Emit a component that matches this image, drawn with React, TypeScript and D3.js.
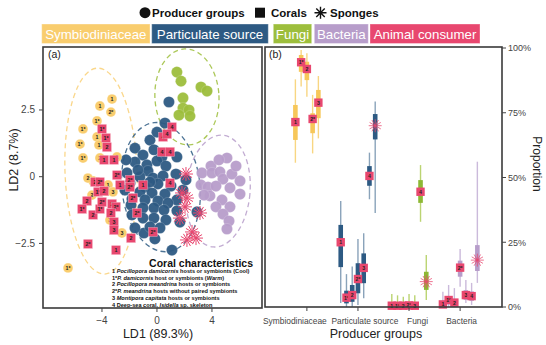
import React from "react";
import * as d3 from "d3";

const FONT = "'Liberation Sans', Arial, Helvetica, sans-serif";

// ---------- header / groups ----------
const headerLabels = ["Symbiodiniaceae", "Particulate source", "Fungi", "Bacteria", "Animal consumer"];
const headerColors = ["#F9CD6E", "#2D5A83", "#9DBE3C", "#B79DCA", "#E8476F"];
const producerGroups = ["Symbiodiniaceae", "Particulate source", "Fungi", "Bacteria"];

// ---------- panel (a): LDA scores ----------
const symbLD1 = [-3.27, -4.15, -3.35, -4.36, -5.38, -4.36, -5.6, -4.22, -5.38, -4.15, -2.91, -4.65, -3.56, -4.73, -3.64, -3.2, -2.55, -6.47, -3.42, -5.02];
const symbLD2 = [2.91, 2.65, 2.42, 2.09, 1.79, 1.49, 1.22, 1.19, 0.7, 0.7, 0.74, -0.16, -0.31, -0.69, -0.54, -0.57, -2.11, -3.42, -1.62, -0.05];
const symbLab = ["1", "1", "2*", "1*", "1*", "1", "1*", "1", "1*", "2", "1", "1", "1", "2", "3", "3", "3", "1*", "3", "2"];

const partLD1 = [0.87, 0.58, -0.51, -1.6, -1.02, -0.22, 1.45, 0.36, -1.6, -0.73, 0.0, 0.65, -0.65, -1.24, -0.29, 0.44, 1.38, -1.96, -0.87, 0.07, 1.02, 1.89, -1.24, -0.36, 0.58, 1.45, -1.82, -0.87, 0.07, 0.8, -1.89, -1.02, -0.22, 0.51, 1.45, 2.91, -1.82, -1.02, -0.22, 0.65, -0.95, -0.51, 0.22, -1.6, -0.15, 1.09, -0.51, -1.38, -2.18, 2.11, 1.67, -2.33, 0.0, -2.25];
const partLD2 = [2.8, 2.01, 1.37, 1.07, 0.81, 1.01, 0.74, 0.74, 0.55, 0.44, 0.59, 0.4, 0.21, -0.01, -0.05, 0.03, 0.1, -0.24, -0.39, -0.27, -0.35, -0.5, -0.57, -0.61, -0.65, -0.87, -0.84, -0.87, -0.91, -0.99, -1.06, -1.17, -1.17, -1.25, -1.28, -1.32, -1.43, -1.55, -1.55, -1.62, -2.11, -1.88, -1.92, -1.92, -2.33, -2.75, -0.2, 0.25, 0.14, -0.12, -1.7, -0.5, 1.67, 0.63];

const fungLD1 = [1.45, 1.75, 3.2, 3.64, 1.89, 1.89, 2.33, 1.6, 2.4];
const fungLD2 = [3.92, 3.58, 3.36, 3.21, 2.95, 2.57, 2.5, 2.31, 2.27];

const bactLD1 = [5.09, 3.93, 3.27, 4.0, 4.58, 4.8, 5.45, 6.04, 3.2, 3.71, 4.29, 5.31, 6.04, 4.73, 4.29, 5.31, 4.8, 5.24, 5.09, 3.85, 5.75, 4.51, 3.42];
const bactLD2 = [0.7, 0.4, 0.14, 0.14, 0.18, -0.09, 0.1, -0.16, -0.31, -0.39, -0.35, -0.42, -0.65, -0.87, -1.13, -1.13, -1.4, -1.66, -1.96, -0.72, 0.4, 0.63, -0.69];

const coralLD1 = [-4.0, -3.71, -3.64, -3.85, -3.13, -2.91, -2.69, -1.96, -1.96, -1.02, -1.75, -1.45, -0.29, -1.89, -2.98, -5.02, -4.51, -4.15, -4.29, -3.85, -5.09, -5.45, -4.65, -4.15, -4.0, -3.27, -2.98, -3.35, -3.13, -3.13, 1.09, 0.44, 0.73, 0.36, 0.95, 0.95];
const coralLD2 = [1.79, 1.45, 1.11, 0.63, 0.63, 0.06, -0.31, -0.12, -0.39, -0.31, -0.8, -1.36, -2.07, -2.3, -2.75, -2.52, -0.2, -0.2, -0.57, -0.54, -0.91, -1.21, -1.43, -1.21, -0.95, -1.02, -1.13, -1.36, -1.7, -2.0, 1.86, 1.49, 1.6, 0.93, 0.93, -0.24];
const coralLab = ["1*", "1*", "2", "1", "1", "2*", "1", "2*", "2*", "1", "2*", "2*", "2*", "2", "1", "2*", "2", "2*", "1*", "2", "2", "1*", "2", "1*", "2*", "2", "2*", "2", "3", "3", "4", "4", "4", "4", "4", "4"];

const spongeLD1 = [2.11, 1.82, 2.18, 2.04, 1.67, 3.13, 2.55, 2.84, 2.18];
const spongeLD2 = [0.1, -0.61, -0.8, -1.13, -1.55, -1.36, -2.07, -2.3, -2.37];

// 95% ellipses (data units)
const ellGroup = ["Symbiodiniaceae", "Particulate source", "Fungi", "Bacteria"];
const ellCx = [-4.07, 0.29, 2.18, 4.44];
const ellCy = [0.21, -0.39, 2.99, -0.54];
const ellRx = [2.62, 2.84, 2.33, 2.33];
const ellRy = [3.86, 2.43, 1.8, 2.1];
const ellAngle = [-2, -6, -3, 5];

const legendLines: [string, boolean][][] = [
  [["1 ", false], ["Pocillopora damicornis", true], [" hosts or symbionts (Cool)", false]],
  [["1*", false], ["P. damicornis", true], [" host or symbionts (", false], ["Warm", true], [")", false]],
  [["2 ", false], ["Pocillopora meandrina", true], [" hosts or symbionts", false]],
  [["2*", false], ["P. meandrina", true], [" hosts without paired symbionts", false]],
  [["3 ", false], ["Montipora capitata", true], [" hosts or symbionts", false]],
  [["4 ", false], ["Deep-sea coral, ", false], ["Isidella", true], [" sp. skeleton", false]],
];

// ---------- panel (b): diet proportions (%) ----------
const consumerKeys = ["1", "1*", "2", "2*", "3", "4", "Sponge"];
// per producer group: median, q1, q3, lower, upper  (null = absent)
const symbMed = [71.4, 94.5, 91.9, 72.6, 78.9, null, null];
const symbQ1 = [64.5, 90.8, 87.6, 67.1, 72.9, null, null];
const symbQ3 = [78.0, 97.3, 94.7, 74.8, 83.8, null, null];
const symbLo = [55.7, 85.1, 81.2, 59.3, 65.1, null, null];
const symbHi = [87.9, 99.2, 98.0, 81.9, 89.2, null, null];

const partMed = [25.0, 3.6, 4.6, 10.8, 15.1, 50.6, 70.0];
const partQ1 = [15.4, 1.4, 2.0, 5.3, 9.2, 46.8, 64.7];
const partQ3 = [31.7, 6.3, 8.5, 16.9, 20.7, 54.4, 74.5];
const partLo = [1.5, 0, 0.1, 0.8, 3.4, 41.6, 36.3];
const partHi = [40.9, 12.7, 15.6, 26.3, 28.5, 59.6, 79.3];

const fungMed = [0.5, 0.5, 0.5, 0.6, 0.5, 44.5, 9.8];
const fungQ1 = [0.1, 0.1, 0.1, 0.1, 0.1, 40.2, 6.6];
const fungQ3 = [1.2, 1.2, 1.0, 1.5, 1.2, 49.0, 13.6];
const fungLo = [0, 0, 0, 0, 0, 32.9, 2.7];
const fungHi = [5.0, 4.5, 4.0, 5.0, 4.5, 54.8, 20.1];

const bactMed = [1.0, 2.7, 1.7, 15.2, 4.6, 4.2, 18.1];
const bactQ1 = [0.3, 1.0, 0.6, 11.7, 2.8, 2.4, 13.9];
const bactQ3 = [2.0, 4.0, 3.0, 17.9, 6.5, 6.0, 23.9];
const bactLo = [0, 0, 0, 7.8, 1.5, 0.8, 9.3];
const bactHi = [5.9, 8.5, 7.3, 22.4, 10.4, 9.3, 56.1];

const propTicks = [0, 25, 50, 75, 100];

const boxColors = ["#F7C75A", "#2D5A83", "#8DB834", "#B79DCA"];
const whiskerColors = ["#F8D682", "#8AA3BA", "#BBD472", "#CBBADB"];

function starPath(r: number, n: number) {
  let p = "";
  for (let i = 0; i < n; i++) {
    const a = (Math.PI * i) / n;
    const dx = r * Math.cos(a), dy = r * Math.sin(a);
    p += `M${(-dx).toFixed(2)},${(-dy).toFixed(2)}L${dx.toFixed(2)},${dy.toFixed(2)}`;
  }
  return p;
}

export default function App() {
  const pink = headerColors[4];
  const color = d3.scaleOrdinal<string, string>().domain(headerLabels).range(headerColors);

  // panel a scales
  const xA = d3.scaleLinear().domain([-8.29, 7.64]).range([43, 262]);
  const yA = d3.scaleLinear().domain([-4.92, 4.86]).range([308, 47]);
  const fmt = d3.format("");

  // panel b scales
  const xB = d3.scalePoint<string>().domain(producerGroups).range([265, 502]).padding(0.82);
  const yB = d3.scaleLinear().domain([0, 100]).range([307, 48]);
  const dodge = xB.step() * 0.1125;

  const stats = [
    [symbMed, symbQ1, symbQ3, symbLo, symbHi],
    [partMed, partQ1, partQ3, partLo, partHi],
    [fungMed, fungQ1, fungQ3, fungLo, fungHi],
    [bactMed, bactQ1, bactQ3, bactLo, bactHi],
  ];
  const boxRows = producerGroups.flatMap((g, gi) => {
    const [med, q1, q3, lo, hi] = stats[gi];
    const present = consumerKeys
      .map((k, ki) => ({ k, med: med[ki], q1: q1[ki], q3: q3[ki], lo: lo[ki], hi: hi[ki] }))
      .filter((r) => r.med !== null);
    const n = present.length;
    return present.map((r, i) => ({ ...r, gi, g, x: (xB(g) as number) + (i - (n - 1) / 2) * dodge }));
  });

  const producers = [
    { g: "Particulate source", xs: partLD1, ys: partLD2 },
    { g: "Bacteria", xs: bactLD1, ys: bactLD2 },
    { g: "Fungi", xs: fungLD1, ys: fungLD2 },
  ];

  const tickCol = "#444";
  const frameCol = "#3a3a3a";

  const headerX = [41.7, 151.7, 273.3, 314.3, 370];
  const headerW = [108.3, 116.6, 38.4, 54, 110];

  const xTickDx = [-12, 7, 8.5, 1.5];

  return (
    <svg width={546} height={345} style={{ position: "absolute", left: 0, top: 0, background: "#fff" }} fontFamily={FONT}>
      {/* ---- shape legend ---- */}
      <g fontWeight="bold" fontSize={11.5} fill="#111">
        <circle cx={145} cy={12.7} r={5.5} fill="#111" />
        <text x={152} y={17}>Producer groups</text>
        <rect x={255} y={7.7} width={10} height={10} fill="#111" />
        <text x={271} y={17}>Corals</text>
        <path d={starPath(6, 4)} transform="translate(320.5,12.7)" stroke="#111" strokeWidth={1.4} />
        <text x={330} y={17}>Sponges</text>
      </g>
      {/* ---- colour legend ---- */}
      {headerLabels.map((l, i) => (
        <g key={l}>
          <rect x={headerX[i]} y={24} width={headerW[i]} height={19.5} fill={color(l)} stroke="#fff" strokeOpacity={0.35} strokeWidth={1} />
          <text x={headerX[i] + headerW[i] / 2} y={38.6} fill="#fff" fontSize={13.3} textAnchor="middle">{l}</text>
        </g>
      ))}

      {/* ================= panel (a) ================= */}
      <g>
        {ellGroup.map((g, i) => (
          <ellipse
            key={g}
            cx={xA(ellCx[i])}
            cy={yA(ellCy[i])}
            rx={xA(ellRx[i]) - xA(0)}
            ry={yA(0) - yA(ellRy[i])}
            transform={`rotate(${ellAngle[i]},${xA(ellCx[i])},${yA(ellCy[i])})`}
            fill="none"
            stroke={color(g)}
            strokeOpacity={g === "Symbiodiniaceae" ? 0.8 : 0.85}
            strokeWidth={1.3}
            strokeDasharray="5,3.5"
          />
        ))}
        {producers.map((p) =>
          p.xs.map((v, i) => (
            <circle key={p.g + i} cx={xA(v)} cy={yA(p.ys[i])} r={5.6} fill={color(p.g)} fillOpacity={0.95} stroke="#fff" strokeOpacity={0.35} strokeWidth={0.5} />
          ))
        )}
        {symbLD1.map((v, i) => (
          <g key={"s" + i} transform={`translate(${xA(v)},${yA(symbLD2[i])})`}>
            <circle r={4.9} fill={color("Symbiodiniaceae")} stroke="#fff" strokeOpacity={0.5} strokeWidth={0.5} />
            <text fontSize={5.3} fontWeight="bold" textAnchor="middle" dy={1.9} fill="#222">{symbLab[i]}</text>
          </g>
        ))}
        {coralLD1.map((v, i) => (
          <g key={"c" + i} transform={`translate(${xA(v)},${yA(coralLD2[i])})`}>
            <rect x={-4.6} y={-4.6} width={9.2} height={9.2} fill={pink} stroke="#fff" strokeOpacity={0.5} strokeWidth={0.5} />
            <text fontSize={5.3} fontWeight="bold" textAnchor="middle" dy={1.9} fill="#222">{coralLab[i]}</text>
          </g>
        ))}
        {spongeLD1.map((v, i) => (
          <path key={"sp" + i} d={starPath(7, 6)} transform={`translate(${xA(v)},${yA(spongeLD2[i])})`} stroke={pink} strokeWidth={1} fill="none" />
        ))}

        {/* coral legend */}
        <text x={253} y={266.5} fontSize={10.5} fontWeight="bold" textAnchor="end" fill="#111">Coral characteristics</text>
        {legendLines.map((line, i) => (
          <text key={i} x={112} y={272.6 + i * 6.9} fontSize={5.6} fontWeight="bold" fill="#111">
            {line.map(([t, it], j) => (
              <tspan key={j} fontStyle={it ? "italic" : "normal"}>{t}</tspan>
            ))}
          </text>
        ))}

        {/* frame and axes */}
        <rect x={43} y={47} width={219} height={261} fill="none" stroke={frameCol} strokeWidth={1.6} />
        {[-4, 0, 4].map((t) => (
          <g key={"xa" + t}>
            <line x1={xA(t)} x2={xA(t)} y1={308} y2={312} stroke={tickCol} strokeWidth={1} />
            <text x={xA(t)} y={324} fontSize={10} textAnchor="middle" fill={tickCol}>{fmt(t)}</text>
          </g>
        ))}
        {[-2.5, 0, 2.5].map((t) => (
          <g key={"ya" + t}>
            <line x1={39} x2={43} y1={yA(t)} y2={yA(t)} stroke={tickCol} strokeWidth={1} />
            <text x={35} y={yA(t) + 3.5} fontSize={10} textAnchor="end" fill={tickCol}>{fmt(t)}</text>
          </g>
        ))}
        <text x={48} y={58} fontSize={10.5} fill="#222">(a)</text>
        <text x={158} y={338} fontSize={12.5} textAnchor="middle" fill="#222">LD1 (89.3%)</text>
        <text transform="translate(17.5,160) rotate(-90)" fontSize={12.5} textAnchor="middle" fill="#222">LD2 (8.7%)</text>
      </g>

      {/* ================= panel (b) ================= */}
      <g>
        {boxRows.map((r, i) => (
          <g key={"b" + i}>
            <line x1={r.x} x2={r.x} y1={yB(r.lo as number)} y2={yB(r.hi as number)} stroke={whiskerColors[r.gi]} strokeWidth={1.4} />
            <rect x={r.x - 2.3} width={4.6} y={yB(r.q3 as number)} height={yB(r.q1 as number) - yB(r.q3 as number)} fill={boxColors[r.gi]} />
          </g>
        ))}
        {boxRows.map((r, i) =>
          r.k === "Sponge" ? (
            <path key={"m" + i} d={starPath(6.5, 6)} transform={`translate(${r.x},${yB(r.med as number)})`} stroke={pink} strokeOpacity={0.75} strokeWidth={1} fill="none" />
          ) : (
            <g key={"m" + i} transform={`translate(${r.x},${yB(r.med as number)})`}>
              <rect x={-4.2} y={-4.2} width={8.4} height={8.4} fill={pink} />
              <text fontSize={5.2} fontWeight="bold" textAnchor="middle" dy={1.9} fill="#222">{r.k}</text>
            </g>
          )
        )}
        <rect x={265} y={47} width={237} height={260} fill="none" stroke={frameCol} strokeWidth={1.6} />
        {propTicks.map((t) => (
          <g key={"yb" + t}>
            <line x1={502} x2={506} y1={yB(t)} y2={yB(t)} stroke={tickCol} strokeWidth={1} />
            <text x={508} y={yB(t) + 3.3} fontSize={9} fill={tickCol}>{t + "%"}</text>
          </g>
        ))}
        {producerGroups.map((g, i) => (
          <g key={"xb" + g}>
            <line x1={xB(g)} x2={xB(g)} y1={307} y2={311} stroke={tickCol} strokeWidth={1} />
            <text x={(xB(g) as number) + xTickDx[i]} y={324} fontSize={8.4} textAnchor="middle" fill={tickCol}>{g}</text>
          </g>
        ))}
        <text x={269} y={58} fontSize={10.5} fill="#222">(b)</text>
        <text x={376} y={338} fontSize={12.5} textAnchor="middle" fill="#222">Producer groups</text>
        <text transform="translate(533,164) rotate(90)" fontSize={12} textAnchor="middle" fill="#222">Proportion</text>
      </g>
    </svg>
  );
}
